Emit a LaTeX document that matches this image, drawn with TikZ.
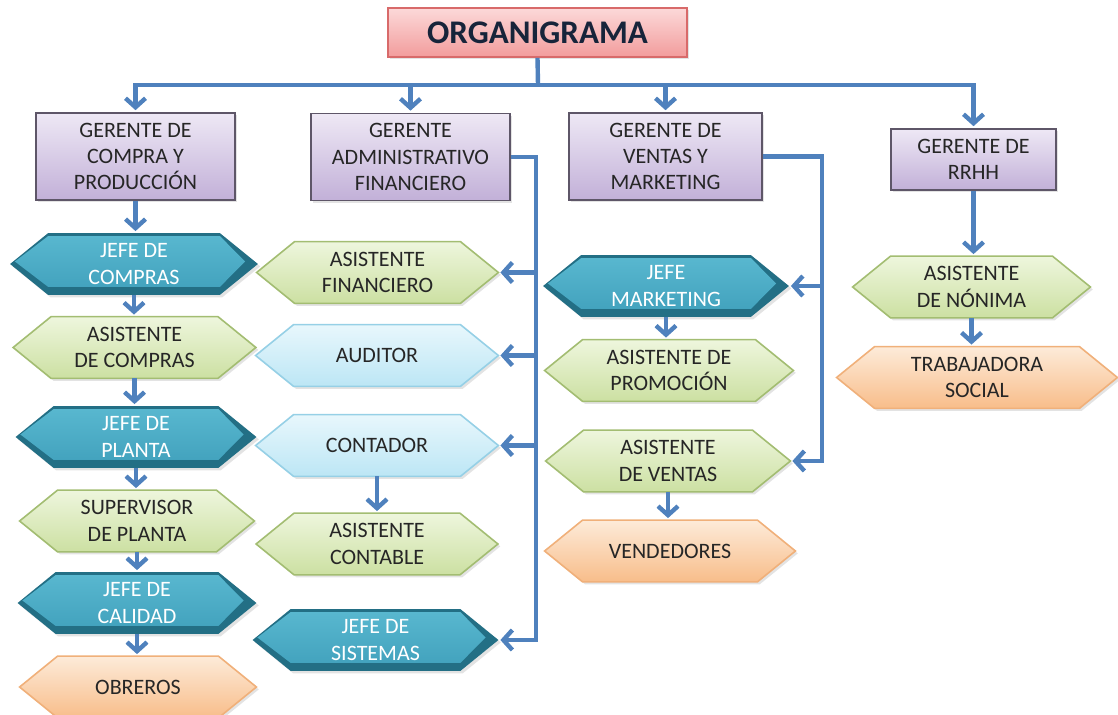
\documentclass[tikz,border=0pt]{standalone}
\usepackage{fontspec}
\setmainfont{Carlito}
\usetikzlibrary{arrows.meta,shadows,backgrounds}

\definecolor{conector}{HTML}{4F81BD}
\definecolor{texto}{HTML}{262626}
\definecolor{tituloA}{HTML}{FCD9D9}
\definecolor{tituloB}{HTML}{F29C9C}
\definecolor{tituloBorde}{HTML}{D86A6A}
\definecolor{tituloTexto}{HTML}{17243A}
\definecolor{moradoA}{HTML}{EEE8F5}
\definecolor{moradoB}{HTML}{C2B0D8}
\definecolor{moradoBorde}{HTML}{5E5668}
\definecolor{verdeA}{HTML}{EEF6DD}
\definecolor{verdeB}{HTML}{CCE0A2}
\definecolor{verdeBorde}{HTML}{A3BD72}
\definecolor{celesteA}{HTML}{E8F7FC}
\definecolor{celesteB}{HTML}{BCE6F5}
\definecolor{celesteBorde}{HTML}{96D0E6}
\definecolor{naranjaA}{HTML}{FDEBD9}
\definecolor{naranjaB}{HTML}{F8BD8A}
\definecolor{naranjaBorde}{HTML}{F0B07A}
\definecolor{jefeBorde}{HTML}{236F85}
\definecolor{jefeA}{HTML}{58B7CF}
\definecolor{jefeB}{HTML}{43A3BE}

% hexagon round a named node: #3 top inset, #4 bottom inset
\newcommand{\hexa}[4][]{%
  \path[#1] ([xshift=1.6*#3,yshift=(#4-#3)/2]#2.west)
    -- ([xshift=19pt,yshift=-#3]#2.north west) -- ([xshift=-19pt,yshift=-#3]#2.north east)
    -- ([xshift=-1.6*#4,yshift=(#4-#3)/2]#2.east)
    -- ([xshift=-19pt,yshift=#4]#2.south east) -- ([xshift=19pt,yshift=#4]#2.south west) -- cycle;}

\begin{document}
\begin{tikzpicture}[x=0.5pt,y=-0.5pt,
    every node/.style={align=center, text=texto, font=\fontsize{11}{13.2}\selectfont},
    sombra/.style={drop shadow={opacity=0.22,shadow xshift=1.2pt,shadow yshift=-1.2pt}},
    titulo/.style={draw=tituloBorde, line width=0.8pt, top color=tituloA, bottom color=tituloB,
      minimum width=149.5pt, minimum height=24.5pt, text=tituloTexto,
      font=\fontsize{16.5}{20}\selectfont\bfseries, sombra},
    gerente/.style={draw=moradoBorde, line width=0.8pt, top color=moradoA, bottom color=moradoB,
      minimum width=#1, minimum height=43.5pt, inner sep=0pt, sombra},
    hexbox/.style={minimum width=#1, minimum height=30.5pt, inner sep=0pt},
    jefe/.style={hexbox=#1, text=white},
    verde/.style={top color=verdeA, bottom color=verdeB, draw=verdeBorde, line width=0.8pt, sombra},
    celeste/.style={top color=celesteA, bottom color=celesteB, draw=celesteBorde, line width=0.8pt, sombra},
    naranja/.style={top color=naranjaA, bottom color=naranjaB, draw=naranjaBorde, line width=0.8pt, sombra},
  ]
\useasboundingbox (0,0) rectangle (1118,715);

\node[titulo] (org) at (537.5,32.5) {ORGANIGRAMA};

\node[gerente=99.5pt] (gcp) at (135.5,156.5) {GERENTE DE\\COMPRA Y\\PRODUCCIÓN};
\node[gerente=99.5pt] (gaf) at (410.5,157) {GERENTE\\ADMINISTRATIVO\\FINANCIERO};
\node[gerente=96.5pt] (gvm) at (665.5,156.5) {GERENTE DE\\VENTAS Y\\MARKETING};
\node[gerente=82.5pt, minimum height=30.5pt] (grh) at (973.5,159.5) {GERENTE DE\\RRHH};

% compras y produccion
\node[jefe=123.5pt] (jcomp) at (134,264) {JEFE DE\\COMPRAS};
\node[hexbox=121pt] (acomp) at (134.5,347.5) {ASISTENTE\\DE COMPRAS};
\node[jefe=120pt] (jplanta) at (136,437) {JEFE DE\\PLANTA};
\node[hexbox=117pt] (splanta) at (137,521) {SUPERVISOR\\DE PLANTA};
\node[jefe=119pt] (jcal) at (137,603) {JEFE DE\\CALIDAD};
\node[hexbox=118pt] (obreros) at (138,687) {OBREROS};

% administrativo financiero
\node[hexbox=120.5pt] (afin) at (377.5,272.5) {ASISTENTE\\FINANCIERO};
\node[hexbox=121pt] (auditor) at (377,355.5) {AUDITOR};
\node[hexbox=121pt] (contador) at (377,445.5) {CONTADOR};
\node[hexbox=120.5pt] (acont) at (377,544) {ASISTENTE\\CONTABLE};
\node[jefe=122.5pt] (jsis) at (375.5,640) {JEFE DE\\SISTEMAS};

% ventas y marketing
\node[jefe=122.5pt] (jmkt) at (666,286) {JEFE\\MARKETING};
\node[hexbox=124pt] (aprom) at (669,370.5) {ASISTENTE DE\\PROMOCIÓN};
\node[hexbox=122pt] (aventas) at (668,461) {ASISTENTE\\DE VENTAS};
\node[hexbox=125pt] (vend) at (670,551) {VENDEDORES};

% rrhh
\node[hexbox=118.5pt] (anom) at (971.5,287) {ASISTENTE\\DE NÓNIMA};
\node[hexbox=140pt] (tsoc) at (977,377.5) {TRABAJADORA\\SOCIAL};

\begin{scope}[on background layer]
  \foreach \n in {jcomp,jplanta,jcal,jsis,jmkt} {
    \hexa[fill=jefeBorde, sombra]{\n}{0pt}{0pt}
    \hexa[top color=jefeA, bottom color=jefeB]{\n}{1.5pt}{4pt}
  }
  \foreach \n in {acomp,splanta,afin,acont,aprom,aventas,anom} \hexa[verde]{\n}{0pt}{0pt};
  \foreach \n in {auditor,contador} \hexa[celeste]{\n}{0pt}{0pt};
  \foreach \n in {obreros,vend,tsoc} \hexa[naranja]{\n}{0pt}{0pt};
\end{scope}

\coordinate (barra) at (538,85);
\coordinate (busF) at (536,0);
\coordinate (busV) at (822,0);

\begin{scope}[every path/.style={-{Straight Barb[length=4.5pt,width=10pt]}, line width=2.2pt, draw=conector, shorten >=1pt}]
  \draw[-] (org.south) -- (barra);
  \foreach \g in {gcp,gaf,gvm,grh} \draw (barra) -| (\g.north);
  \foreach \a/\b in {gcp/jcomp,jcomp/acomp,acomp/jplanta,jplanta/splanta,splanta/jcal,jcal/obreros,
      contador/acont,jmkt/aprom,aventas/vend,grh/anom,anom/tsoc}
    \draw (\a.south) -- (\a.south |- \b.north);
  \draw (gaf.east) -| (busF |- jsis.east) -- (jsis.east);
  \foreach \n in {afin,auditor,contador} \draw (busF |- \n.east) -- (\n.east);
  \draw (gvm.east) -| (busV |- aventas.east) -- (aventas.east);
  \draw (busV |- jmkt.east) -- (jmkt.east);
\end{scope}
\end{tikzpicture}
\end{document}
